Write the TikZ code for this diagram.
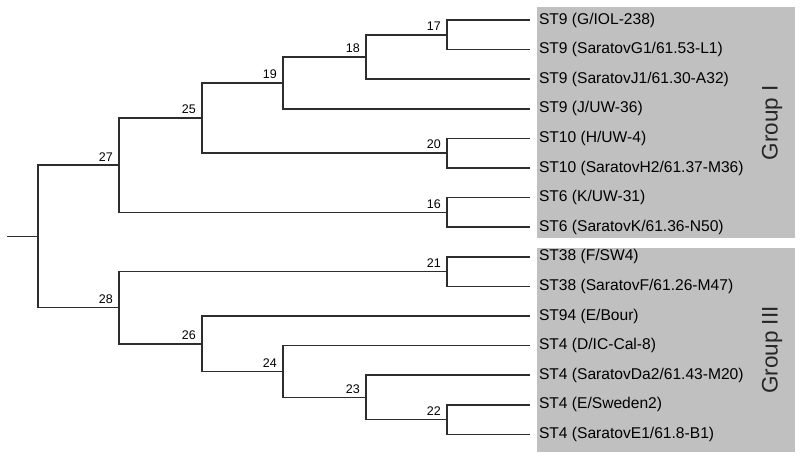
\documentclass[tikz,border=0pt]{standalone}
\usepackage{fontspec}
\setmainfont{Liberation Sans}
\usepackage{tikz}
\usetikzlibrary{matrix,positioning,calc}

\definecolor{boxgray}{RGB}{192,192,192}
\definecolor{branchcol}{RGB}{45,45,45}

\begin{document}
\begin{tikzpicture}[
    x=1pt, y=-1pt,
    taxa/.style={matrix of nodes, nodes={anchor=west, minimum height=29.6pt, inner ysep=0pt, inner xsep=9pt, font=\fontsize{15.6}{16}\selectfont}, column sep=0pt, row sep=0pt, inner sep=0pt, outer sep=0pt},
    branch/.style={line width=1.5pt, branchcol},
    nlabel/.style={anchor=south east, xshift=-5pt, yshift=3pt, inner sep=1pt, font=\fontsize{12.5}{12.5}\selectfont},
    groupbox/.style={fill=boxgray, anchor=north west, inner sep=0pt, outer sep=0pt},
    grouplabel/.style={rotate=90, font=\fontsize{22.5}{24}\selectfont, text=black!85}
]
\useasboundingbox (0,0) rectangle (800,456);

% Group boxes
\node[groupbox, minimum width=258pt, minimum height=231pt] (boxI) at (537,7) {};
\node[groupbox, minimum width=258pt, minimum height=204pt] (boxIII) at (537,248) {};
\node[grouplabel] (groupI) at (772,122.5) {Group I};
\node[grouplabel] (groupIII) at (772,350) {Group III};

\matrix [taxa, anchor=north west] (leaf) at (530,5.2) {
    ST9 (G/IOL-238) \\
    ST9 (SaratovG1/61.53-L1) \\
    ST9 (SaratovJ1/61.30-A32) \\
    ST9 (J/UW-36) \\
    ST10 (H/UW-4) \\
    ST10 (SaratovH2/61.37-M36) \\
    ST6 (K/UW-31) \\
    ST6 (SaratovK/61.36-N50) \\
    ST38 (F/SW4) \\
    ST38 (SaratovF/61.26-M47) \\
    ST94 (E/Bour) \\
    ST4 (D/IC-Cal-8) \\
    ST4 (SaratovDa2/61.43-M20) \\
    ST4 (E/Sweden2) \\
    ST4 (SaratovE1/61.8-B1) \\
};

% Internal nodes
\coordinate (stub) at (7,236.5);
\coordinate (root) at (38,236.5);
\coordinate (n27) at (119,165.2);
\coordinate (n25) at (202,118);
\coordinate (n19) at (283,82.9);
\coordinate (n18) at (366,57);
\coordinate (n17) at (447,34.8);
\coordinate (n20) at (447,153.2);
\coordinate (n16) at (447,212.4);
\coordinate (n28) at (119,307.7);
\coordinate (n21) at (447,271.6);
\coordinate (n26) at (202,343.8);
\coordinate (n24) at (283,371.5);
\coordinate (n23) at (366,397.4);
\coordinate (n22) at (447,419.6);

% Branches
\draw[branch] (leaf-1-1.west) -| (n17) |- (leaf-2-1.west);
\draw[branch] (n17) -| (n18) |- (leaf-3-1.west);
\draw[branch] (n18) -| (n19) |- (leaf-4-1.west);
\draw[branch] (leaf-5-1.west) -| (n20) |- (leaf-6-1.west);
\draw[branch] (n19) -| (n25) |- (n20);
\draw[branch] (leaf-7-1.west) -| (n16) |- (leaf-8-1.west);
\draw[branch] (n25) -| (n27) |- (n16);
\draw[branch] (leaf-9-1.west) -| (n21) |- (leaf-10-1.west);
\draw[branch] (leaf-14-1.west) -| (n22) |- (leaf-15-1.west);
\draw[branch] (leaf-13-1.west) -| (n23) |- (n22);
\draw[branch] (leaf-12-1.west) -| (n24) |- (n23);
\draw[branch] (leaf-11-1.west) -| (n26) |- (n24);
\draw[branch] (n21) -| (n28) |- (n26);
\draw[branch] (n27) -| (root) |- (n28);
\draw[branch] (stub) -- (root);

% Node numbers
\foreach \n in {16,...,28}
    \node[nlabel] (l\n) at (n\n) {\n};

\end{tikzpicture}
\end{document}
